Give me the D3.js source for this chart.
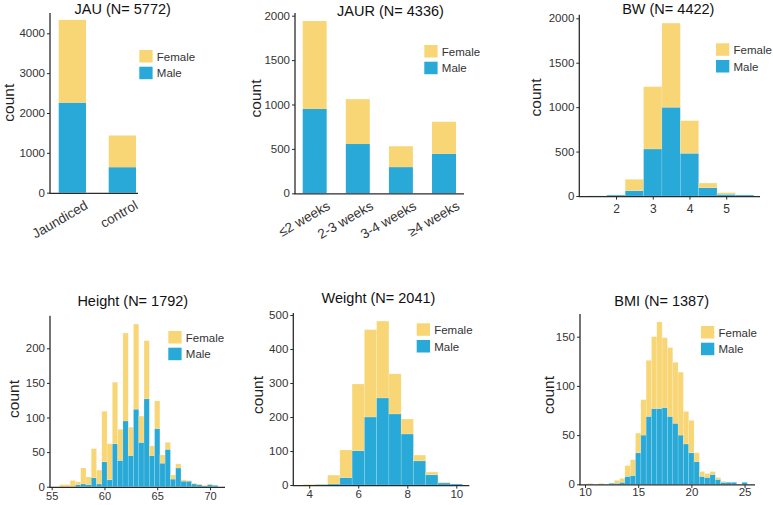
<!DOCTYPE html>
<html><head><meta charset="utf-8">
<script src="https://cdn.jsdelivr.net/npm/d3@7"></script>
<style>
html,body{margin:0;padding:0;background:#fff;}
svg{display:block;font-family:"Liberation Sans",Arial,Helvetica,sans-serif;}
</style></head>
<body>
<svg id="chart" width="773" height="505"></svg>
<script>
// ---------- DATA ----------
const jauCats = ["Jaundiced", "control"];
const jauMale = [2260, 640];
const jauFemale = [2076, 796];

const jaurCats = ["≤2 weeks", "2-3 weeks", "3-4 weeks", "≥4 weeks"];
const jaurMale = [950, 555, 295, 445];
const jaurFemale = [990, 505, 235, 361];

const bwBins = [1.5, 2, 2.5, 3, 3.5, 4, 4.5, 5, 5.5];
const bwMale = [1, 11, 60, 529, 999, 481, 94, 19, 11];
const bwFemale = [1, 2, 128, 702, 947, 367, 52, 18, 0];
const bwXTicks = [2, 3, 4, 5];
const bwYTicks = [0, 500, 1000, 1500, 2000];

const heightBins = [56, 56.5, 57, 57.5, 58, 58.5, 59, 59.5, 60, 60.5, 61, 61.5, 62, 62.5, 63, 63.5, 64, 64.5, 65, 65.5, 66, 66.5, 67, 67.5, 68, 68.5, 69, 69.5, 70, 70.5];
const heightMale = [0, 0, 0, 3, 4, 3, 13, 4, 36, 10, 62, 38, 95, 45, 112, 64, 127, 45, 84, 34, 54, 11, 27, 8, 8, 4, 3, 1, 3, 2];
const heightFemale = [3, 3, 9, 4, 23, 11, 42, 20, 73, 52, 89, 45, 127, 41, 123, 38, 84, 14, 40, 12, 10, 6, 6, 2, 1, 1, 1, 1, 1, 0];
const heightXTicks = [55, 60, 65, 70];
const heightYTicks = [0, 50, 100, 150, 200];

const weightBins = [4, 4.5, 5, 5.5, 6, 6.5, 7, 7.5, 8, 8.5, 9, 9.5, 10];
const weightMale = [0, 2, 3, 22, 101, 200, 256, 209, 150, 71, 30, 6, 3];
const weightFemale = [2, 1, 26, 81, 196, 257, 226, 118, 44, 17, 8, 2, 0];
const weightXTicks = [4, 6, 8, 10];
const weightYTicks = [0, 100, 200, 300, 400, 500];

const bmiBins = [10.5, 11.5, 12.5, 13, 13.5, 14, 14.5, 15, 15.5, 16, 16.5, 17, 17.5, 18, 18.5, 19, 19.5, 20, 20.5, 21, 21.5, 22, 22.5, 23, 23.5, 24, 25];
const bmiMale = [0, 0, 1, 1, 2, 8, 9, 32, 50, 69, 77, 77, 78, 69, 62, 50, 41, 32, 23, 8, 7, 10, 5, 2, 2, 2, 2];
const bmiFemale = [1, 1, 0, 3, 4, 11, 16, 20, 36, 57, 73, 88, 71, 70, 62, 64, 33, 33, 9, 5, 4, 3, 2, 1, 0, 0, 0];
const bmiXTicks = [10, 15, 20, 25];
const bmiYTicks = [0, 50, 100, 150];

const jauYTicks = [0, 1000, 2000, 3000, 4000];
const jaurYTicks = [0, 500, 1000, 1500, 2000];

const legendLabels = ["Female", "Male"];
const titles = ["JAU (N= 5772)", "JAUR (N= 4336)", "BW (N= 4422)", "Height (N= 1792)", "Weight (N= 2041)", "BMI (N= 1387)"];

// ---------- STYLE ----------
const FEMALE = "#F9D675", MALE = "#28A9D7";
const AXIS = "#2b2b2b", TXT = "#333";
const svg = d3.select("#chart");

function axisLines(x0, x1, yb, yt) {
  svg.append("line").attr("x1", x0).attr("x2", x0).attr("y1", yt).attr("y2", yb + 0.6)
    .attr("stroke", AXIS).attr("stroke-width", 1.3);
  svg.append("line").attr("x1", x0 - 0.6).attr("x2", x1).attr("y1", yb + 0.6).attr("y2", yb + 0.6)
    .attr("stroke", AXIS).attr("stroke-width", 1.3);
}
function yAxis(x0, y, ticks) {
  const g = svg.append("g").attr("transform", `translate(${x0},0)`)
    .call(d3.axisLeft(y).tickValues(ticks).tickSize(3).tickPadding(2).tickFormat(d3.format("d")));
  g.select(".domain").remove();
  g.selectAll("line").attr("stroke", AXIS);
  g.selectAll("text").attr("font-size", 11.5).attr("fill", TXT).attr("font-family", null);
}
function xAxis(yb, x, ticks, pad, fs) {
  const g = svg.append("g").attr("transform", `translate(0,${yb + 0.6})`)
    .call(d3.axisBottom(x).tickValues(ticks).tickSize(3).tickPadding(pad).tickFormat(d3.format("d")));
  g.select(".domain").remove();
  g.selectAll("line").attr("stroke", AXIS);
  g.selectAll("text").attr("font-size", fs).attr("fill", TXT).attr("font-family", null);
}
function title(t, cx, by) {
  svg.append("text").attr("x", cx).attr("y", by).attr("text-anchor", "middle")
    .attr("font-size", 14.5).attr("fill", "#111").text(t);
}
function countLabel(bx, cy) {
  svg.append("text").attr("transform", `translate(${bx},${cy}) rotate(-90)`)
    .attr("text-anchor", "middle").attr("font-size", 15.5).attr("fill", "#222").text("count");
}
function legend(x, y) {
  const cols = [FEMALE, MALE];
  legendLabels.forEach((l, i) => {
    svg.append("rect").attr("x", x).attr("y", y + i * 16.7).attr("width", 13.3).attr("height", 12.5)
      .attr("fill", cols[i]);
    svg.append("text").attr("x", x + 17.5).attr("y", y + i * 16.7 + 6.5).attr("dominant-baseline", "central")
      .attr("font-size", 11.5).attr("fill", TXT).text(l);
  });
}
function stackedBars(cats, male, female, x, y) {
  const g = svg.append("g");
  cats.forEach((c, i) => {
    g.append("rect").attr("x", x(c)).attr("width", x.bandwidth())
      .attr("y", y(male[i])).attr("height", y(0) - y(male[i])).attr("fill", MALE);
    g.append("rect").attr("x", x(c)).attr("width", x.bandwidth())
      .attr("y", y(male[i] + female[i])).attr("height", y(male[i]) - y(male[i] + female[i])).attr("fill", FEMALE);
  });
}
function histBars(bins, male, female, x, y, w) {
  const g = svg.append("g");
  bins.forEach((b, i) => {
    const xa = x(b - w / 2), xb = x(b + w / 2);
    if (male[i] > 0) g.append("rect").attr("x", xa).attr("width", xb - xa)
      .attr("y", y(male[i])).attr("height", y(0) - y(male[i])).attr("fill", MALE)
      .attr("stroke", "#ffffff").attr("stroke-opacity", 0.25).attr("stroke-width", 0.6);
    if (female[i] > 0) g.append("rect").attr("x", xa).attr("width", xb - xa)
      .attr("y", y(male[i] + female[i])).attr("height", y(male[i]) - y(male[i] + female[i])).attr("fill", FEMALE)
      .attr("stroke", "#ffffff").attr("stroke-opacity", 0.25).attr("stroke-width", 0.6);
  });
}
function catLabels(cats, x, yb) {
  cats.forEach(c => {
    svg.append("text").attr("text-anchor", "end")
      .attr("transform", `translate(${x(c) + x.bandwidth() / 2 + 16.5},${yb}) rotate(-30)`)
      .attr("font-size", 13.5).attr("fill", TXT).text(c);
  });
}

// ---------- PANEL 1: JAU ----------
{
  const y = d3.scaleLinear().domain([0, 4000]).range([192.7, 33.3]);
  const x = d3.scaleBand().domain(jauCats).range([58.7, 136]).paddingInner(0.454).paddingOuter(0);
  stackedBars(jauCats, jauMale, jauFemale, x, y);
  axisLines(50, 138, y(0), y(d3.max(jauMale.map((m, i) => m + jauFemale[i])) * 1.04));
  yAxis(50, y, jauYTicks);
  catLabels(jauCats, x, 208);
  title(titles[0], 122.7, 14);
  countLabel(13.5, 102.7);
  legend(139.3, 50);
}
// ---------- PANEL 2: JAUR ----------
{
  const y = d3.scaleLinear().domain([0, 2000]).range([193.3, 15.7]);
  const x = d3.scaleBand().domain(jaurCats).range([302.7, 456]).paddingInner(0.444).paddingOuter(0);
  stackedBars(jaurCats, jaurMale, jaurFemale, x, y);
  axisLines(295, 464, y(0), y(2030));
  yAxis(295, y, jaurYTicks);
  catLabels(jaurCats, x, 208.5);
  title(titles[1], 390.5, 16);
  countLabel(260.5, 98.5);
  legend(424.3, 45);
}
// ---------- PANEL 3: BW ----------
{
  const y = d3.scaleLinear().domain([0, 2000]).range([196, 18.3]);
  const x = d3.scaleLinear().domain([1.0, 5.92]).range([579.3, 760]);
  histBars(bwBins, bwMale, bwFemale, x, y, 0.5);
  axisLines(579.3, 760, y(0), y(2040));
  yAxis(579.3, y, bwYTicks);
  xAxis(y(0), x, bwXTicks, 5, 12);
  title(titles[2], 668.3, 13.5);
  countLabel(540.5, 97.5);
  legend(716, 43.3);
}
// ---------- PANEL 4: Height ----------
{
  const y = d3.scaleLinear().domain([0, 200]).range([486.7, 348.3]);
  const x = d3.scaleLinear().domain([54.84, 71.42]).range([50, 225]);
  histBars(heightBins, heightMale, heightFemale, x, y, 0.5);
  axisLines(50, 225, y(0), y(247));
  yAxis(50, y, heightYTicks);
  xAxis(y(0), x, heightXTicks, 2, 11);
  title(titles[3], 132.8, 305.5);
  countLabel(18.5, 399);
  legend(168.3, 331);
}
// ---------- PANEL 5: Weight ----------
{
  const y = d3.scaleLinear().domain([0, 500]).range([485, 315]);
  const x = d3.scaleLinear().domain([3.35, 10.53]).range([293.3, 469.3]);
  histBars(weightBins, weightMale, weightFemale, x, y, 0.5);
  axisLines(293.3, 469.3, y(0), y(506));
  yAxis(293.3, y, weightYTicks);
  xAxis(y(0), x, weightXTicks, 1, 11.5);
  title(titles[4], 378.5, 303);
  countLabel(263, 395);
  legend(416.7, 323.3);
}
// ---------- PANEL 6: BMI ----------
{
  const y = d3.scaleLinear().domain([0, 150]).range([484.3, 336.7]);
  const x = d3.scaleLinear().domain([9.53, 25.98]).range([580, 755]);
  histBars(bmiBins, bmiMale, bmiFemale, x, y, 0.5);
  axisLines(580, 755, y(0), y(173));
  yAxis(580, y, bmiYTicks);
  xAxis(y(0), x, bmiXTicks, 0, 11.5);
  title(titles[5], 661.7, 306);
  countLabel(553.5, 395);
  legend(701, 326);
}
</script>
</body></html>
